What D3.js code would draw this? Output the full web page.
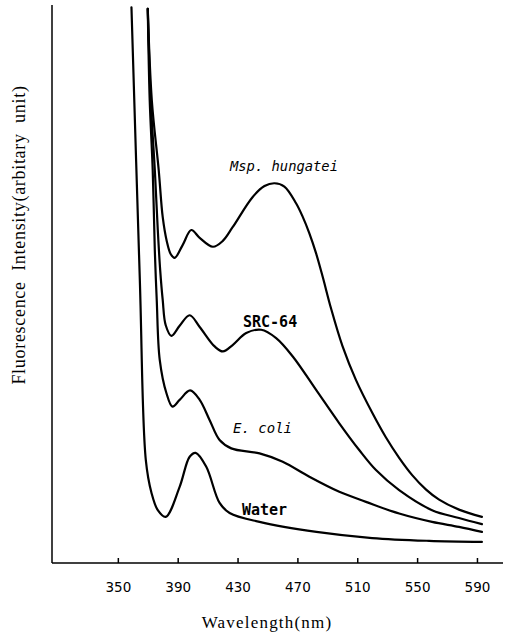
<!DOCTYPE html>
<html>
<head>
<meta charset="utf-8">
<script src="https://cdn.jsdelivr.net/npm/d3@7"></script>
<style>
  html, body { margin: 0; padding: 0; background: #fff; }
  svg { display: block; }
</style>
</head>
<body>
<svg id="chart" width="506" height="634"></svg>
<script>
// ---------- data ----------
const xTicks = [350, 390, 430, 470, 510, 550, 590];

const waterWl  = [359.1, 364.7, 368.7, 372.5, 376.7, 382, 391.3, 398, 402, 409.1, 418, 424.7, 444.7, 482.7, 520, 558, 593.3];
const waterVal = [99.6, 50.6, 18.3, 12.4, 9.3, 8.1, 13.5, 18.9, 19.6, 17.1, 10.6, 8.8, 7.2, 5.4, 4.3, 3.8, 3.6];

const ecoliWl  = [370, 371.3, 373.3, 374.7, 376, 378, 382.5, 386.5, 391.3, 398.3, 404.7, 411.3, 418, 425.8, 444.7, 460.2, 478, 498, 515.8, 538, 560, 578, 593.3];
const ecoliVal = [99.3, 82.9, 70.4, 56.0, 47.0, 36.3, 30.3, 27.9, 29.1, 30.8, 29.1, 25.5, 21.9, 20.4, 19.5, 18.0, 15.3, 12.6, 10.8, 8.7, 7.2, 6.3, 5.4];

const srcWl  = [370, 372, 374.7, 376.7, 378.3, 380, 382, 385.8, 391.3, 398, 404.7, 414.7, 420.2, 426.9, 435.8, 445.8, 455.8, 466.9, 482.5, 498, 511.3, 522.5, 538, 560, 578, 593.3];
const srcVal = [99.3, 82.9, 70.4, 59.6, 52.4, 47.0, 42.5, 40.6, 42.4, 44.3, 42.2, 38.7, 37.8, 39.0, 41.1, 41.7, 40.2, 36.9, 30.9, 24.9, 20.1, 16.5, 12.9, 9.3, 7.9, 6.8];

const mspWl  = [370, 372.7, 377.3, 380, 382.7, 385.3, 388, 393.3, 399.1, 404.7, 413.5, 420, 426.7, 440, 448, 454.7, 461.3, 469.1, 473.5, 478, 482.5, 486.9, 492.5, 500.2, 509.1, 520.2, 529.1, 538, 546.7, 556, 564.7, 578, 593.3];
const mspVal = [99.3, 82.9, 70.4, 61.9, 57.6, 55.3, 54.6, 56.9, 59.6, 58.2, 56.6, 57.6, 60.1, 65.5, 67.5, 68.0, 67.4, 64.4, 62.0, 59.0, 55.4, 51.2, 45.5, 38.7, 32.7, 26.7, 22.4, 18.7, 15.6, 13.0, 11.2, 9.4, 8.1];

const seriesNames = ["Water", "E. coli", "SRC-64", "Msp. hungatei"];

// ---------- layout ----------
const svg = d3.select("#chart");
const x = d3.scaleLinear().domain([306, 607.4]).range([52, 503]);
const y = d3.scaleLinear().domain([0, 100]).range([562, 5]);

const series = [
  { name: seriesNames[0], wl: waterWl, val: waterVal },
  { name: seriesNames[1], wl: ecoliWl, val: ecoliVal },
  { name: seriesNames[2], wl: srcWl, val: srcVal },
  { name: seriesNames[3], wl: mspWl, val: mspVal }
];

const line = d3.line()
  .x(d => x(d[0]))
  .y(d => y(d[1]))
  .curve(d3.curveCatmullRom.alpha(0.5));

svg.append("g").selectAll("path")
  .data(series)
  .join("path")
  .attr("d", s => line(s.wl.map((w, i) => [w, s.val[i]])))
  .attr("fill", "none")
  .attr("stroke", "#000")
  .attr("stroke-width", 2.2)
  .attr("stroke-linejoin", "round")
  .attr("stroke-linecap", "round");

// ---------- axes ----------
const axisY = 563;
const xAxis = d3.axisBottom(x)
  .tickValues(xTicks)
  .tickSize(-5)
  .tickFormat(d3.format("d"))
  .tickPadding(19);

const gx = svg.append("g")
  .attr("transform", `translate(0,${axisY})`)
  .call(xAxis);
gx.select(".domain").remove();
gx.selectAll(".tick line").attr("stroke", "#000").attr("stroke-width", 1.5);
gx.selectAll(".tick text")
  .attr("fill", "#000")
  .attr("font-family", "'DejaVu Sans', sans-serif")
  .attr("font-size", 13.5)
  .attr("dy", "0.71em");

svg.append("line")
  .attr("x1", x.range()[0]).attr("x2", x.range()[1])
  .attr("y1", axisY).attr("y2", axisY)
  .attr("stroke", "#000").attr("stroke-width", 1.5);
svg.append("line")
  .attr("x1", x.range()[0]).attr("x2", x.range()[0])
  .attr("y1", 5).attr("y2", axisY)
  .attr("stroke", "#000").attr("stroke-width", 1.5);

// axis titles
svg.append("text")
  .attr("x", 267).attr("y", 628)
  .attr("text-anchor", "middle")
  .attr("font-family", "'Liberation Serif', 'Times New Roman', serif")
  .attr("font-size", 17)
  .attr("letter-spacing", 1.2)
  .text("Wavelength(nm)");

svg.append("text")
  .attr("transform", "translate(25,235) rotate(-90)")
  .attr("text-anchor", "middle")
  .attr("font-family", "'Liberation Serif', 'Times New Roman', serif")
  .attr("font-size", 18)
  .attr("letter-spacing", 0.7)
  .style("white-space", "pre")
  .text("Fluorescence  Intensity(arbitary  unit)");

// ---------- curve labels ----------
const labels = [
  { t: seriesNames[3], x: 230, y: 171, italic: true, bold: false, fs: 13.8 },
  { t: seriesNames[2], x: 243, y: 327, italic: false, bold: true, fs: 15 },
  { t: seriesNames[1], x: 233, y: 433, italic: true, bold: false, fs: 14 },
  { t: seriesNames[0], x: 242, y: 515, italic: false, bold: true, fs: 15 }
];
svg.append("g").selectAll("text")
  .data(labels)
  .join("text")
  .attr("x", d => d.x).attr("y", d => d.y)
  .attr("font-family", "'DejaVu Sans Mono', monospace")
  .attr("font-size", d => d.fs)
  .attr("font-style", d => d.italic ? "italic" : "normal")
  .attr("font-weight", d => d.bold ? "bold" : "normal")
  .style("white-space", "pre")
  .text(d => d.t);
</script>
</body>
</html>
